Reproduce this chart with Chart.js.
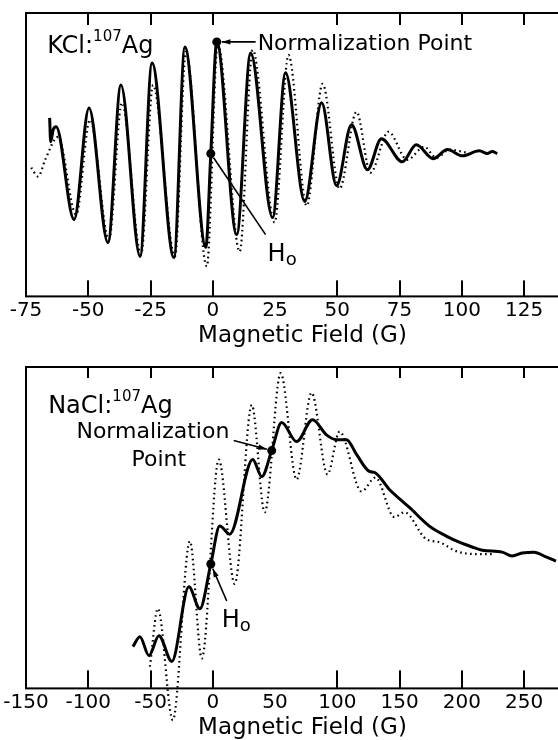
<!DOCTYPE html>
<html>
<head>
<meta charset="utf-8">
<script src="https://cdn.jsdelivr.net/npm/chart.js@4.4.1/dist/chart.umd.min.js"></script>
<style>
html, body { margin: 0; padding: 0; background: #fff; overflow: hidden; width: 558px; height: 740px; }
canvas { position: absolute; left: 0; }
</style>
</head>
<body>
<canvas id="kcl-chart" width="600" height="350" style="top:0"></canvas>
<canvas id="nacl-chart" width="600" height="388" style="top:354px"></canvas>
<script>
// KCl:107Ag - field (G) vs signal (arb. units, 0-100)
const kclSolidG = [-65.5, -65.1, -64.1, -62.9, -55.7, -49.7, -42.1, -36.9, -29.2, -24.4, -15.6, -11.2, -2.8, -0.8, 1.6, 9.6, 15.2, 24.0, 29.2, 36.9, 43.7, 49.7, 55.7, 62.1, 67.7, 76.1, 81.7, 88.5, 94.2, 100.2, 107.0, 110.2, 112.2, 114.2];
const kclSolidS = [63.0, 54.6, 58.8, 59.9, 27.1, 66.5, 19.0, 74.6, 14.1, 82.4, 13.7, 88.0, 17.3, 50.4, 89.8, 21.8, 85.9, 27.8, 78.9, 33.5, 68.3, 39.1, 60.6, 44.7, 55.6, 47.5, 53.5, 48.6, 51.8, 49.6, 51.4, 50.4, 51.1, 50.4];
const kclDotG = [-72.9, -70.1, -67.3, -62.1, -54.9, -49.3, -41.7, -36.5, -28.8, -24.0, -15.2, -10.8, -2.4, 2.0, 10.8, 16.0, 24.8, 30.4, 37.7, 44.1, 50.9, 57.7, 63.3, 70.5, 78.1, 84.9, 89.7, 95.0, 102.2];
const kclDotS = [45.4, 42.3, 48.2, 56.3, 28.9, 62.3, 20.1, 68.3, 14.8, 74.6, 14.1, 86.3, 10.6, 89.1, 15.8, 87.0, 26.1, 85.2, 32.0, 75.0, 38.0, 65.1, 43.7, 58.1, 48.2, 52.8, 48.9, 51.8, 50.7];
const kclMarkG = [1.6, -0.8];   // normalization point, H0
const kclMarkS = [89.8, 50.4];
const kclTicks = [-50, -25, 0, 50, 75, 100, 125];

// NaCl:107Ag
const naclSolidG = [-64.1, -58.5, -51.3, -43.3, -32.9, -19.2, -10.4, -1.6, 5.6, 13.6, 32.1, 39.3, 47.3, 55.3, 67.3, 80.1, 91.3, 99.4, 107.4, 115.4, 125.8, 129.8, 141.8, 157.9, 173.9, 187.5, 197.9, 208.3, 216.3, 232.4, 240.4, 248.4, 258.0, 267.6, 275.6];
const naclSolidS = [13.0, 16.1, 10.2, 16.4, 8.4, 31.6, 24.8, 38.7, 50.5, 48.0, 71.2, 65.9, 74.0, 82.7, 76.8, 83.6, 78.9, 77.4, 77.4, 72.8, 67.5, 67.2, 61.9, 56.3, 50.5, 47.4, 45.5, 44.0, 43.0, 42.4, 41.2, 42.1, 42.4, 40.9, 39.6];
const naclDotG = [-50.5, -44.1, -32.1, -18.4, -8.8, 4.8, 17.6, 31.3, 41.7, 54.5, 67.3, 79.3, 92.1, 101.8, 119.4, 130.6, 145.8, 153.8, 171.5, 181.9, 195.5, 211.5, 226.0];
const naclDotS = [6.8, 24.8, -9.9, 45.8, 9.3, 71.2, 32.5, 88.2, 54.8, 98.1, 65.0, 92.0, 66.6, 79.9, 61.3, 65.6, 53.3, 54.8, 46.4, 45.5, 42.7, 41.8, 41.8];
const naclMarkG = [47.3, -1.6];
const naclMarkS = [74.0, 38.7];
const naclTicks = [-100, -50, 0, 100, 150, 200, 250];

const FONT = '"DejaVu Sans", sans-serif';
const pts = (xs, ys) => xs.map((x, i) => ({ x, y: ys[i] }));

// frame, inward ticks and the hand-lettered notes
function framePlugin(frame) {
    return {
        id: 'frame',
        afterDraw(chart) {
            const { ctx, chartArea: a, scales: { x, y } } = chart;
            const px = v => x.getPixelForValue(v);
            const py = v => y.getPixelForValue(v);
            ctx.save();
            ctx.setLineDash([]);
            ctx.strokeStyle = '#000';
            ctx.fillStyle = '#000';
            ctx.lineWidth = 2;
            ctx.strokeRect(a.left, a.top, a.right - a.left, a.bottom - a.top);
            for (const v of frame.marks) {
                const p = Math.round(px(v));
                ctx.fillRect(p - 1, a.bottom - frame.tickIn[0], 2, frame.tickIn[0]);
                ctx.fillRect(p - 1, a.top, 2, frame.tickIn[1]);
            }

            ctx.lineWidth = 1.6;
            frame.arrows.forEach(ar => {
                const x1 = px(ar.from[0]), y1 = py(ar.from[1]);
                let x2 = px(ar.to[0]), y2 = py(ar.to[1]);
                const ang = Math.atan2(y2 - y1, x2 - x1);
                x2 -= Math.cos(ang) * 5; y2 -= Math.sin(ang) * 5;
                ctx.beginPath(); ctx.moveTo(x1, y1); ctx.lineTo(x2, y2); ctx.stroke();
                if (ar.head) {
                    ctx.beginPath();
                    ctx.moveTo(x2, y2);
                    ctx.lineTo(x2 - 9 * Math.cos(ang - 0.3), y2 - 9 * Math.sin(ang - 0.3));
                    ctx.lineTo(x2 - 9 * Math.cos(ang + 0.3), y2 - 9 * Math.sin(ang + 0.3));
                    ctx.closePath(); ctx.fill();
                }
            });

            ctx.textBaseline = 'middle';
            ctx.textAlign = 'left';
            frame.labels.forEach(lb => {
                let cx = px(lb.x);
                const cy = py(lb.y);
                const widths = lb.parts.map(([t, s]) => { ctx.font = `${s}px ${FONT}`; return ctx.measureText(t).width; });
                const total = widths.reduce((s, w) => s + w, 0);
                if (lb.align === 'center') cx -= total / 2;
                lb.parts.forEach(([t, s, dy], i) => {
                    ctx.font = `${s}px ${FONT}`;
                    ctx.fillText(t, cx, cy + dy);
                    cx += widths[i];
                });
            });
            ctx.restore();
        }
    };
}

function makePanel(id, cfg) {
    return new Chart(document.getElementById(id).getContext('2d'), {
        type: 'line',
        data: {
            datasets: [
                {
                    data: pts(cfg.markG, cfg.markS),
                    showLine: false,
                    pointRadius: 4.5,
                    pointBackgroundColor: '#000',
                    pointBorderWidth: 0,
                    order: 0
                },
                {
                    data: pts(cfg.solidG, cfg.solidS),
                    borderColor: '#000',
                    borderWidth: 3,
                    pointRadius: 0,
                    cubicInterpolationMode: 'monotone',
                    order: 1
                },
                {
                    data: pts(cfg.dotG, cfg.dotS),
                    borderColor: '#000',
                    borderWidth: 2.2,
                    borderDash: [1.6, 3.4],
                    pointRadius: 0,
                    cubicInterpolationMode: 'monotone',
                    clip: false,
                    order: 2
                }
            ]
        },
        options: {
            responsive: false,
            animation: false,
            events: [],
            layout: { padding: { left: 26, top: 13, right: 20, bottom: 0 } },
            scales: {
                x: {
                    type: 'linear',
                    min: cfg.min,
                    max: cfg.max,
                    grid: { display: false, drawTicks: false },
                    border: { display: false },
                    ticks: {
                        stepSize: cfg.step,
                        autoSkip: false,
                        maxRotation: 0,
                        padding: 2,
                        color: '#000',
                        font: { family: FONT, size: 20 }
                    },
                    title: {
                        display: true,
                        text: 'Magnetic Field (G)',
                        color: '#000',
                        padding: { top: -2, bottom: 0 },
                        font: { family: FONT, size: 23 }
                    }
                },
                y: { display: false, min: 0, max: 100 }
            },
            plugins: {
                legend: { display: false },
                tooltip: { enabled: false }
            }
        },
        plugins: [framePlugin(cfg.frame)]
    });
}

makePanel('kcl-chart', {
    solidG: kclSolidG, solidS: kclSolidS, dotG: kclDotG, dotS: kclDotS,
    markG: kclMarkG, markS: kclMarkS,
    min: -75, max: 147, step: 25,
    frame: {
        marks: kclTicks,
        tickIn: [16, 12],
        labels: [
            { x: -66.5, y: 88, parts: [['KCl:', 24, 0], ['107', 15, -10], ['Ag', 24, 0]] },
            { x: 18, y: 89.1, parts: [['Normalization Point', 22, 0]] },
            { x: 22, y: 14.8, parts: [['H', 24, 0], ['o', 18, 6]] }
        ],
        arrows: [
            { from: [17.2, 89.8], to: [1.6, 89.8], head: true },
            { from: [21.2, 21.8], to: [-0.8, 50.4], head: false }
        ]
    }
});

makePanel('nacl-chart', {
    solidG: naclSolidG, solidS: naclSolidS, dotG: naclDotG, dotS: naclDotS,
    markG: naclMarkG, markS: naclMarkS,
    min: -150, max: 294, step: 50,
    frame: {
        marks: naclTicks,
        tickIn: [18, 11],
        labels: [
            { x: -132.2, y: 87.6, parts: [['NaCl:', 24, 0], ['107', 15, -10], ['Ag', 24, 0]] },
            { x: -48.1, y: 79.6, align: 'center', parts: [['Normalization', 22, 0]] },
            { x: -43.3, y: 70.9, align: 'center', parts: [['Point', 22, 0]] },
            { x: 7.2, y: 21.1, parts: [['H', 24, 0], ['o', 18, 6]] }
        ],
        arrows: [
            { from: [16.8, 77.1], to: [47.3, 74.0], head: true },
            { from: [11.2, 27.2], to: [-1.6, 38.7], head: true }
        ]
    }
});
</script>
</body>
</html>
